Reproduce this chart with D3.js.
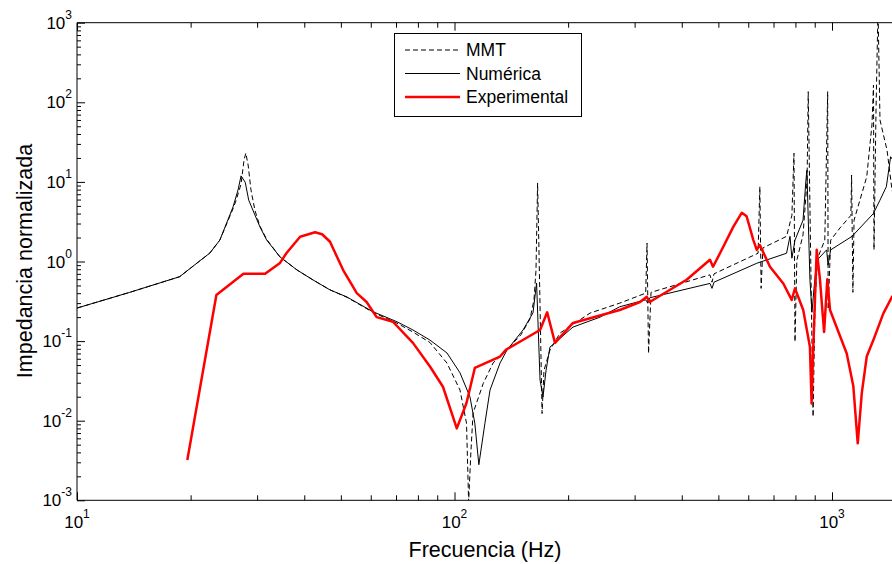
<!DOCTYPE html>
<html>
<head>
<meta charset="utf-8">
<script src="https://cdn.jsdelivr.net/npm/d3@7"></script>
<style>
  body { margin: 0; background: #fff; }
  text { font-family: "Liberation Sans", Arial, sans-serif; fill: #000; }
</style>
</head>
<body>
<script>
// values: [frequency Hz, normalized impedance]
var mmtData = [[10,0.26],[13.8,0.41],[18.7,0.644],[20.8,0.957],[22.5,1.28],[23.9,1.86],[25.9,4.6],[26.4,5.9],
  [27.2,9.4],[27.7,18.8],[28.0,23],[28.4,16.3],[28.9,7.9],[29.6,4.4],[30.5,2.8],[31.8,1.9],[34.5,1.14],
  [38.3,0.78],[42.2,0.586],[46.8,0.44],[51.9,0.355],[60.8,0.23],[70.4,0.168],[77.6,0.13],[86.1,0.096],
  [95.5,0.053],[103.4,0.0243],[107.6,0.0093],[109,0.00095],[110.5,0.004],[112,0.0125],[119.2,0.0295],
  [126.5,0.053],[137.7,0.078],[150,0.12],[158.5,0.19],[162.4,0.33],[164.4,0.78],[166,9.7],[167.4,1.39],
  [170.6,0.0123],[172.6,0.043],[179,0.077],[190.3,0.126],[228.6,0.225],[274,0.30],[321,0.4],[323.6,1.7],
  [326.6,0.07],[331.6,0.41],[475,0.68],[481,0.55],[487,0.7],[637,1.27],[644,8.7],[649,0.46],[656,1.48],
  [758,2.07],[783,3.8],[793,22.9],[798,0.098],[807,1.04],[838,2.16],[859,10.5],[865,136],[891,0.0112],
  [902,0.33],[916,1.1],[957,1.86],[974,136],[977,0.25],[992,1.86],[1050,2.64],[1122,3.8],[1127,12.2],
  [1136,0.41],[1144,3.3],[1236,11.6],[1276,52],[1288,165],[1292,1.4],[1308,80],[1324,1500],[1340,60],
  [1399,25],[1442,7.9],[1500,4]];

var numData = [[10,0.26],[13.8,0.41],[18.7,0.644],[20.8,0.957],[22.5,1.28],[23.9,1.86],[25.9,4.84],
  [26.7,7.9],[27.2,11.9],[27.9,9.9],[28.5,5.9],[30.5,2.74],[31.8,1.86],[34.5,1.14],[38.3,0.78],[42.2,0.586],
  [46.8,0.44],[51.9,0.358],[60.8,0.234],[70.4,0.175],[77.6,0.138],[86.1,0.103],[95.5,0.071],[103.4,0.04],
  [109.9,0.0199],[113.2,0.0093],[116,0.0028],[120.4,0.0093],[124.2,0.0243],[132,0.053],[137.7,0.077],
  [151.9,0.138],[161.4,0.226],[165,0.537],[168.5,0.0324],[171.6,0.0199],[174.8,0.043],[179,0.084],
  [206,0.15],[243,0.2],[274,0.27],[321,0.33],[325,0.30],[329,0.35],[475,0.53],[481,0.46],[487,0.55],
  [632,0.95],[758,1.27],[774,2.07],[783,1.1],[798,1.86],[838,3.3],[853,10.5],[858,14],[874,0.6],
  [885,0.23],[896,0.46],[911,1.03],[968,1.4],[976,0.9],[992,1.4],[1130,2.07],[1287,4.0],[1340,5.9],
  [1393,8.7],[1430,20.7],[1460,18],[1500,5]];

var expData = [[19.6,0.0032],[23.4,0.38],[27.6,0.70],[31.5,0.70],[34.5,0.96],[35.9,1.28],[39.0,2.05],
  [42.7,2.33],[44.6,2.2],[46.8,1.77],[50.7,0.78],[55.1,0.40],[58.5,0.31],[62.2,0.20],[68.7,0.175],
  [77.6,0.095],[86.1,0.048],[93.2,0.0267],[101.4,0.008],[107.6,0.0167],[113.2,0.046],[132,0.064],
  [137,0.078],[168.5,0.138],[176,0.23],[184.6,0.095],[206,0.169],[274,0.246],[310,0.31],[323,0.36],
  [329,0.31],[412,0.59],[475,1.05],[484,0.86],[505,1.27],[548,2.74],[577,4.1],[594,3.7],[619,1.86],
  [632,1.4],[644,1.61],[685,0.86],[743,0.53],[782,0.33],[798,0.46],[839,0.246],[874,0.085],[883,0.0165],
  [891,0.07],[911,1.4],[929,0.6],[953,0.13],[972,0.6],[988,0.246],[1094,0.070],[1139,0.027],
  [1170,0.0052],[1199,0.022],[1236,0.064],[1287,0.103],[1368,0.223],[1442,0.36],[1500,0.45]];

var xMajor = [10, 100, 1000];
var yMajor = [1e-3, 1e-2, 1e-1, 1, 10, 100, 1000];
var legendNames = ["MMT", "Numérica", "Experimental"];

var w = 892, h = 564;
var plotL = 77, plotR = 892, plotT = 22.7, plotB = 500.3;

var svg = d3.select("body").append("svg")
  .attr("width", w).attr("height", h);

svg.append("rect").attr("width", w).attr("height", h).attr("fill", "white");

var x = d3.scaleLog().domain([10, 1000]).range([plotL, 832]);
var y = d3.scaleLog().domain([1e-3, 1e3]).range([plotB, plotT]);

// minor ticks 2..9 per decade
var xMinor = [], yMinor = [];
[10, 100].forEach(function(d) { for (var k = 2; k < 10; k++) xMinor.push(d * k); });
yMajor.slice(0, -1).forEach(function(d) { for (var k = 2; k < 10; k++) yMinor.push(d * k); });

svg.append("clipPath").attr("id", "plot")
  .append("rect").attr("x", plotL).attr("y", plotT).attr("width", plotR - plotL + 5).attr("height", plotB - plotT);

var line = d3.line()
  .x(function(d) { return x(d[0]); })
  .y(function(d) { return y(d[1]); });

var lines = svg.append("g").attr("clip-path", "url(#plot)");
lines.append("path").datum(numData).attr("d", line)
  .attr("fill", "none").attr("stroke", "#000").attr("stroke-width", 1);
lines.append("path").datum(mmtData).attr("d", line)
  .attr("fill", "none").attr("stroke", "#000").attr("stroke-width", 1).attr("stroke-dasharray", "5,3");
lines.append("path").datum(expData).attr("d", line)
  .attr("fill", "none").attr("stroke", "#ff0000").attr("stroke-width", 2.5).attr("stroke-linejoin", "round");

// axes (ticks point inward)
function drawAxis(axis, tx, ty) {
  var g = svg.append("g").attr("transform", "translate(" + tx + "," + ty + ")").call(axis);
  g.select(".domain").remove();
  g.selectAll("line").attr("stroke", "#000");
  return g;
}
drawAxis(d3.axisBottom(x).tickValues(xMajor).tickSize(-8).tickFormat(""), 0, plotB);
drawAxis(d3.axisBottom(x).tickValues(xMinor).tickSize(-5).tickFormat(""), 0, plotB);
drawAxis(d3.axisTop(x).tickValues(xMajor).tickSize(-8).tickFormat(""), 0, plotT);
drawAxis(d3.axisTop(x).tickValues(xMinor).tickSize(-5).tickFormat(""), 0, plotT);
drawAxis(d3.axisLeft(y).tickValues(yMajor).tickSize(-8).tickFormat(""), plotL, 0);
drawAxis(d3.axisLeft(y).tickValues(yMinor).tickSize(-4).tickFormat(""), plotL, 0);

// frame
svg.append("path")
  .attr("d", "M" + plotR + "," + plotT + "H" + plotL + "V" + plotB + "H" + plotR)
  .attr("fill", "none").attr("stroke", "#000").attr("stroke-width", 1);

// tick labels as 10^n
xMajor.forEach(function(d) {
  var t = svg.append("text").attr("x", x(d)).attr("y", 528).attr("text-anchor", "middle");
  t.append("tspan").attr("font-size", 17).text("10");
  t.append("tspan").attr("font-size", 12).attr("dy", -10).text(Math.round(Math.log10(d)));
});
yMajor.forEach(function(d) {
  var t = svg.append("text").attr("x", 72).attr("y", y(d) + 6).attr("text-anchor", "end");
  t.append("tspan").attr("font-size", 17).text("10");
  t.append("tspan").attr("font-size", 12).attr("dy", -10).text(Math.round(Math.log10(d)));
});

svg.append("text").attr("x", 485).attr("y", 557).attr("text-anchor", "middle")
  .attr("font-size", 21.5).text("Frecuencia (Hz)");
svg.append("text").attr("transform", "translate(32," + 261 + ") rotate(-90)")
  .attr("text-anchor", "middle").attr("font-size", 21.5).text("Impedancia normalizada");

// legend
var lg = svg.append("g");
lg.append("rect").attr("x", 394.5).attr("y", 33.5).attr("width", 187).attr("height", 83)
  .attr("fill", "white").attr("stroke", "#000");
var styles = [
  {stroke: "#000", width: 1, dash: "5,3"},
  {stroke: "#000", width: 1, dash: null},
  {stroke: "#ff0000", width: 2.5, dash: null}
];
legendNames.forEach(function(name, i) {
  var ly = 50 + i * 23.5;
  lg.append("line").attr("x1", 405).attr("x2", 460).attr("y1", ly).attr("y2", ly)
    .attr("stroke", styles[i].stroke).attr("stroke-width", styles[i].width)
    .attr("stroke-dasharray", styles[i].dash);
  lg.append("text").attr("x", 466).attr("y", ly + 6).attr("font-size", 17.5).text(name);
});
</script>
</body>
</html>
